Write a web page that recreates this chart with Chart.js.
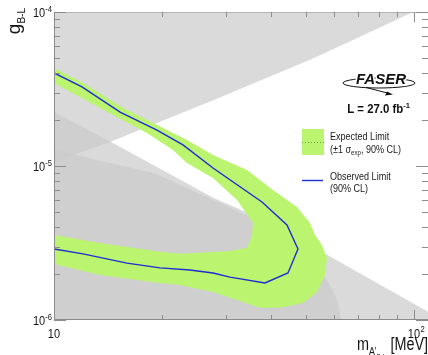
<!DOCTYPE html>
<html>
<head>
<meta charset="utf-8">
<script src="https://cdn.jsdelivr.net/npm/chart.js@4.4.1/dist/chart.umd.min.js"></script>
<style>
  html, body { margin: 0; padding: 0; background: #fff; }
  #wrap { position: relative; width: 428px; height: 355px; }
</style>
</head>
<body>
<div id="wrap"><canvas id="chart"></canvas></div>
<script>
// ---- Axis ranges and tick labels ----
const massRange = [10, 109.4];          // MeV
const couplingRange = [1e-6, 1e-4];
const massLabelValues = [10, 100];
const massLabelExponents = ['', '2'];
const couplingLabelValues = [1e-6, 1e-5, 1e-4];
const couplingLabelExponents = ['-6', '-5', '-4'];

// ---- Previously excluded regions (grey) ----
// upper region (prompt / collider searches)
const upperMass     = [10, 14.3, 27.8, 52.8, 99.5];
const upperCoupling = [1.06e-5, 1.43e-5, 2.68e-5, 5.03e-5, 1.0e-4];
// lower region (long-lived, beam dumps)
const lowerMass     = [10, 14.4, 27.8, 35.7, 56.2, 109.4];
const lowerCoupling = [2.25e-5, 1.43e-5, 6.2e-6, 4.8e-6, 2.72e-6, 1.13e-6];
// inner lower region
const dumpMass      = [10, 18.95, 35.7, 45.2, 53.1, 58.4, 61.5, 62.7];
const dumpCoupling  = [1.27e-5, 9.0e-6, 4.6e-6, 3.46e-6, 2.38e-6, 1.69e-6, 1.31e-6, 1.0e-6];

// ---- Expected limit +-1 sigma band (closed contour) ----
const bandMass = [
  10, 12.04, 15.55, 19.32, 23.41, 27.65, 34.37, 40.58, 47.32, 51.41, 53.09, 55.52,
  57.31, 56.58, 53.77, 49.17, 42.44, 37.35, 32.24, 27.65, 22.39, 19.70, 13.42, 10,
  10, 13.42, 19.70, 22.39, 30.83, 34.37, 35.48, 35.71, 32.24, 27.65, 23.41, 21.41,
  18.13, 14.96, 11.81, 10
];
const bandCoupling = [
  4.33e-5, 3.46e-5, 2.38e-5, 1.846e-5, 1.475e-5, 1.178e-5, 9.42e-6, 6.99e-6, 5.42e-6, 4.27e-6, 3.56e-6, 3.07e-6,
  2.53e-6, 1.96e-6, 1.52e-6, 1.29e-6, 1.20e-6, 1.20e-6, 1.35e-6, 1.52e-6, 1.69e-6, 1.74e-6, 1.96e-6, 2.31e-6,
  3.56e-6, 3.16e-6, 2.77e-6, 2.69e-6, 2.81e-6, 2.94e-6, 3.56e-6, 4.27e-6, 6.02e-6, 8.36e-6, 1.046e-5, 1.27e-5,
  1.637e-5, 2.08e-5, 2.81e-5, 3.46e-5
];

// ---- Observed limit ----
const observedMass = [10, 11.96, 15.26, 19.32, 22.82, 27.65, 37.83, 44.38, 47.62, 44.67, 38.56, 30.83, 27.65, 23.86, 19.70, 15.95, 12.04, 10];
const observedCoupling = [4.02e-5, 3.26e-5, 2.24e-5, 1.71e-5, 1.37e-5, 9.7e-6, 5.84e-6, 4.14e-6, 2.89e-6, 2.02e-6, 1.74e-6, 1.90e-6, 2.02e-6, 2.11e-6, 2.18e-6, 2.34e-6, 2.69e-6, 2.89e-6];

const pts = (xs, ys) => xs.map((v, i) => ({ x: v, y: ys[i] }));

const GREY = 'rgba(203,203,203,0.7)';
const BAND = '#bbf46f';
const OBS = '#1f2dd2';
const FONT = '"Liberation Sans", Arial, Helvetica, sans-serif';

// draw a run of text pieces (normal / sub / superscript) with horizontal scale
function rich(ctx, parts, x, y, align, sx) {
  ctx.save();
  let w = 0;
  const widths = parts.map(p => {
    ctx.font = (p.w || '') + ' ' + p.s + 'px ' + FONT;
    const m = ctx.measureText(p.t).width;
    w += m;
    return m;
  });
  let x0 = x;
  if (align === 'right') x0 = x - w * sx;
  else if (align === 'center') x0 = x - w * sx / 2;
  ctx.translate(x0, y);
  ctx.scale(sx, 1);
  ctx.textAlign = 'left';
  ctx.textBaseline = 'alphabetic';
  let cx = 0;
  parts.forEach((p, i) => {
    ctx.font = (p.w || '') + ' ' + p.s + 'px ' + FONT;
    ctx.fillText(p.t, cx, p.dy || 0);
    cx += widths[i];
  });
  ctx.restore();
  return w * sx;
}

const decorations = {
  id: 'decorations',
  afterDatasetsDraw(chart) {
    const { ctx, chartArea: a, scales } = chart;
    const xs = scales.x, ys = scales.y;
    ctx.save();
    ctx.strokeStyle = '#8c8c8c';
    ctx.lineWidth = 1;
    const seg = (x1, y1, x2, y2) => { ctx.beginPath(); ctx.moveTo(x1, y1); ctx.lineTo(x2, y2); ctx.stroke(); };

    // frame
    seg(a.left + 0.5, a.top, a.left + 0.5, a.bottom);
    seg(a.left, a.bottom - 0.5, a.right, a.bottom - 0.5);
    ctx.strokeStyle = '#b4b4b4';
    seg(a.left, a.top + 0.5, a.right, a.top + 0.5);
    ctx.strokeStyle = '#8c8c8c';

    // coupling ticks (left and right)
    for (let e = -6; e <= -4; e++) {
      for (let k = 1; k <= 9; k++) {
        const v = k * Math.pow(10, e);
        if (v < couplingRange[0] * 0.999 || v > couplingRange[1] * 1.001) continue;
        const py = Math.round(ys.getPixelForValue(v)) + 0.5;
        const len = k === 1 ? 12 : 6;
        seg(a.left, py, a.left + len, py);
        seg(a.right, py, a.right - len, py);
      }
    }
    // mass ticks (bottom and top)
    for (let e = 1; e <= 2; e++) {
      for (let k = 1; k <= 9; k++) {
        const v = k * Math.pow(10, e);
        if (v < massRange[0] * 0.999 || v > massRange[1]) continue;
        const px = Math.round(xs.getPixelForValue(v)) + 0.5;
        const len = k === 1 ? 10 : 5;
        seg(px, a.bottom, px, a.bottom - len);
        seg(px, a.top, px, a.top + len);
      }
    }

    ctx.fillStyle = '#161616';
    // coupling tick labels
    couplingLabelValues.forEach((v, i) => {
      const py = ys.getPixelForValue(v);
      rich(ctx, [
        { t: '10', s: 13 },
        { t: couplingLabelExponents[i], s: 9, dy: -5 }
      ], 52, py + 5, 'right', 0.85);
    });
    // mass tick labels
    massLabelValues.forEach((v, i) => {
      const px = xs.getPixelForValue(v);
      const bw = rich(ctx, [{ t: '10', s: 13 }], px, 338, 'center', 0.85);
      if (massLabelExponents[i]) {
        rich(ctx, [{ t: massLabelExponents[i], s: 9 }], px + bw / 2 + 0.5, 332, 'left', 0.85);
      }
    });

    // axis titles
    rich(ctx, [
      { t: 'm', s: 18 },
      { t: "A'", s: 11, dy: 5 },
      { t: 'B-L', s: 8, dy: 9 },
      { t: ' [MeV]', s: 18 }
    ], 428, 350, 'right', 0.8);

    ctx.save();
    ctx.translate(20, 8);
    ctx.rotate(-Math.PI / 2);
    rich(ctx, [
      { t: 'g', s: 19 },
      { t: 'B-L', s: 10, dy: 5 }
    ], 0, 0, 'right', 1);
    ctx.restore();

    // experiment logo
    ctx.save();
    ctx.strokeStyle = '#111';
    ctx.lineWidth = 1;
    ctx.beginPath();
    ctx.ellipse(379, 83, 36, 5, 0, 0, Math.PI * 2);
    ctx.stroke();
    ctx.beginPath();
    ctx.moveTo(366, 87.5);
    ctx.quadraticCurveTo(380, 91, 389, 93.5);
    ctx.stroke();
    ctx.beginPath();
    ctx.moveTo(393, 94.5);
    ctx.lineTo(385, 95.5);
    ctx.lineTo(387, 91.5);
    ctx.closePath();
    ctx.fillStyle = '#111';
    ctx.fill();
    ctx.font = 'italic bold 15px ' + FONT;
    ctx.lineWidth = 3;
    ctx.strokeStyle = '#fff';
    ctx.strokeText('FASER', 356, 84);
    ctx.fillText('FASER', 356, 84);
    ctx.restore();

    // luminosity
    ctx.fillStyle = '#111';
    rich(ctx, [
      { t: 'L = 27.0 fb', s: 12, w: 'bold' },
      { t: '-1', s: 8, w: 'bold', dy: -5 }
    ], 410, 112.5, 'right', 0.95);

    // legend: expected band
    ctx.fillStyle = BAND;
    ctx.fillRect(302, 129, 22, 26);
    ctx.save();
    ctx.strokeStyle = '#6f9a3a';
    ctx.setLineDash([1, 2]);
    seg(302, 142.5, 324, 142.5);
    ctx.restore();
    ctx.fillStyle = '#1a1a1a';
    rich(ctx, [{ t: 'Expected Limit', s: 11 }], 330, 139.5, 'left', 0.82);
    rich(ctx, [
      { t: '(\u00b11 \u03c3', s: 11 },
      { t: 'exp', s: 7.5, dy: 2.5 },
      { t: ', 90% CL)', s: 11 }
    ], 330, 152.5, 'left', 0.82);

    // legend: observed line
    ctx.strokeStyle = OBS;
    ctx.lineWidth = 1.4;
    seg(302, 180.5, 323, 180.5);
    ctx.fillStyle = '#1a1a1a';
    rich(ctx, [{ t: 'Observed Limit', s: 11 }], 330, 180, 'left', 0.82);
    rich(ctx, [{ t: '(90% CL)', s: 11 }], 330, 192, 'left', 0.82);

    ctx.restore();
  }
};

new Chart(document.getElementById('chart'), {
  type: 'scatter',
  data: {
    datasets: [
      {
        label: 'excluded (upper)',
        data: pts(upperMass, upperCoupling),
        showLine: true, pointRadius: 0, borderWidth: 0, borderColor: 'transparent',
        backgroundColor: GREY, fill: 'end', order: 5
      },
      {
        label: 'excluded (lower)',
        data: pts(lowerMass, lowerCoupling),
        showLine: true, pointRadius: 0, borderWidth: 0, borderColor: 'transparent',
        backgroundColor: GREY, fill: 'start', order: 4
      },
      {
        label: 'excluded (beam dump)',
        data: pts(dumpMass, dumpCoupling),
        showLine: true, pointRadius: 0, borderWidth: 0, borderColor: 'transparent',
        backgroundColor: GREY, fill: 'start', order: 3
      },
      {
        label: 'Expected Limit',
        data: pts(bandMass, bandCoupling),
        showLine: true, pointRadius: 0, borderWidth: 0, borderColor: 'transparent',
        backgroundColor: BAND, fill: 'shape', order: 2
      },
      {
        label: 'Observed Limit',
        data: pts(observedMass, observedCoupling),
        showLine: true, pointRadius: 0, borderWidth: 1.4, borderColor: OBS,
        fill: false, order: 1
      }
    ]
  },
  options: {
    responsive: true,
    maintainAspectRatio: false,
    animation: false,
    devicePixelRatio: 1,
    layout: { padding: { top: 12, right: 0, left: 0, bottom: 0 } },
    plugins: { legend: { display: false }, tooltip: { enabled: false } },
    elements: { line: { tension: 0 } },
    scales: {
      x: {
        type: 'logarithmic', min: massRange[0], max: massRange[1],
        ticks: { display: false }, grid: { display: false }, border: { display: false },
        afterFit(s) { s.height = 35; }
      },
      y: {
        type: 'logarithmic', min: couplingRange[0], max: couplingRange[1],
        ticks: { display: false }, grid: { display: false }, border: { display: false },
        afterFit(s) { s.width = 54; }
      }
    }
  },
  plugins: [decorations]
});
</script>
</body>
</html>
